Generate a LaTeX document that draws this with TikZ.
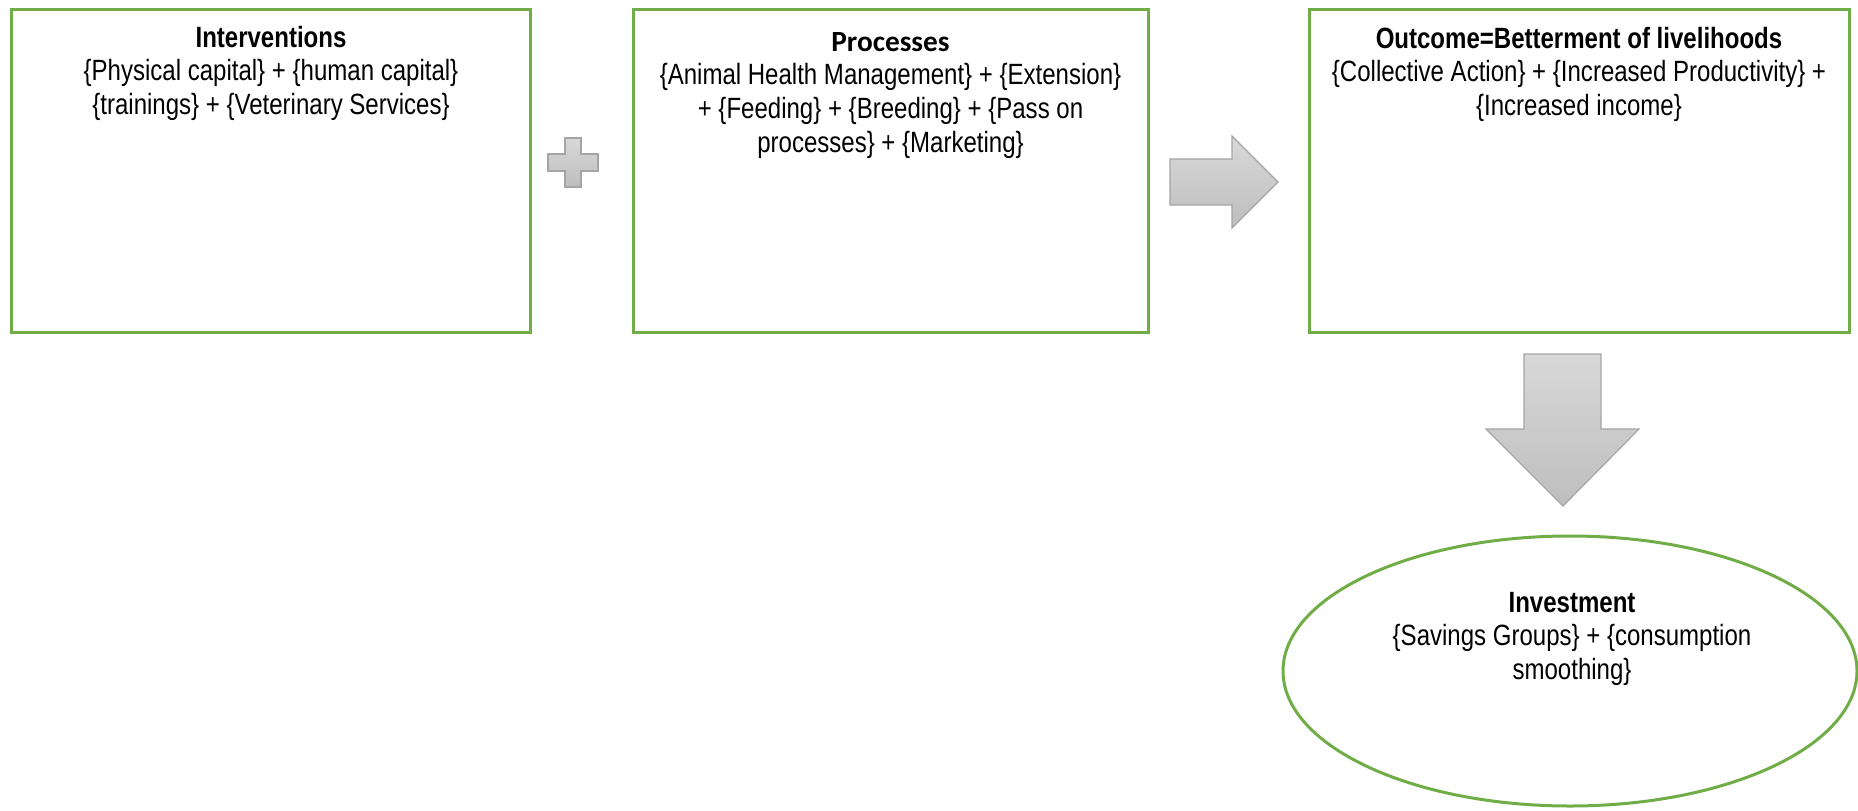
\documentclass[tikz,border=0pt]{standalone}
\usepackage{fontspec}
\setmainfont{Liberation Sans}[FakeStretch=0.82]
\newfontfamily\calibri{Carlito}
\usetikzlibrary{shapes.geometric}

\definecolor{boxgreen}{RGB}{112,173,71}
\definecolor{shapeedge}{RGB}{165,165,165}
\definecolor{shapetop}{RGB}{216,216,216}
\definecolor{shapebot}{RGB}{190,190,190}

\tikzset{
  box/.style={draw=boxgreen, line width=3pt, fill=white, rectangle, inner sep=0pt, outer sep=0pt},
  oval/.style={draw=boxgreen, line width=3pt, fill=white, ellipse, inner sep=0pt, outer sep=0pt},
  txt/.style={align=center, inner sep=0pt, anchor=north, font=\fontsize{29.3}{33.7}\selectfont},
  block/.style={draw=shapeedge, line width=1.2pt, top color=shapetop, bottom color=shapebot, line join=miter},
}

\begin{document}
\begin{tikzpicture}[x=1pt, y=-1pt]
\useasboundingbox (0,0) rectangle (1858,811);

% three stages of the chain
\node[box, minimum width=519pt, minimum height=323pt] (interv) at (270.5,170.5) {};
\node[box, minimum width=515pt, minimum height=323pt] (proc) at (890.5,171) {};
\node[box, minimum width=540pt, minimum height=323pt] (outcome) at (1579,170.5) {};
\node[oval, minimum width=574pt, minimum height=270pt] (invest) at (1570,671) {};

% box captions
\node[txt] (intervtxt) at (271,22) {\rule{0pt}{25pt}\textbf{Interventions}\\
  \{Physical capital\} + \{human capital\}\\
  \{trainings\} + \{Veterinary Services\}};
\node[txt] (proctxt) at (890.5,26) {\rule{0pt}{25pt}{\calibri\bfseries Processes}\\
  \{Animal Health Management\} + \{Extension\}\\
  + \{Feeding\} + \{Breeding\} + \{Pass on\\
  processes\} + \{Marketing\}};
\node[txt] (outcometxt) at (1579,23) {\rule{0pt}{25pt}\textbf{Outcome=Betterment of livelihoods}\\
  \{Collective Action\} + \{Increased Productivity\} +\\
  \{Increased income\}};
\node[txt] (investtxt) at (1572,587) {\rule{0pt}{25pt}\textbf{Investment}\\
  \{Savings Groups\} + \{consumption\\
  smoothing\}};

% plus sign between the first two stages
\path[block] (565,138) -- (581,138) -- (581,154) -- (598,154) -- (598,171) -- (581,171)
  -- (581,187) -- (565,187) -- (565,171) -- (548,171) -- (548,154) -- (565,154) -- cycle;

% block arrow to the outcome
\path[block] (1170,159) -- (1232,159) -- (1232,136) -- (1278,182) -- (1232,228)
  -- (1232,205) -- (1170,205) -- cycle;

% block arrow down to investment
\path[block] (1524,354) -- (1601,354) -- (1601,429) -- (1639,429) -- (1563,506)
  -- (1486,429) -- (1524,429) -- cycle;
\end{tikzpicture}
\end{document}
